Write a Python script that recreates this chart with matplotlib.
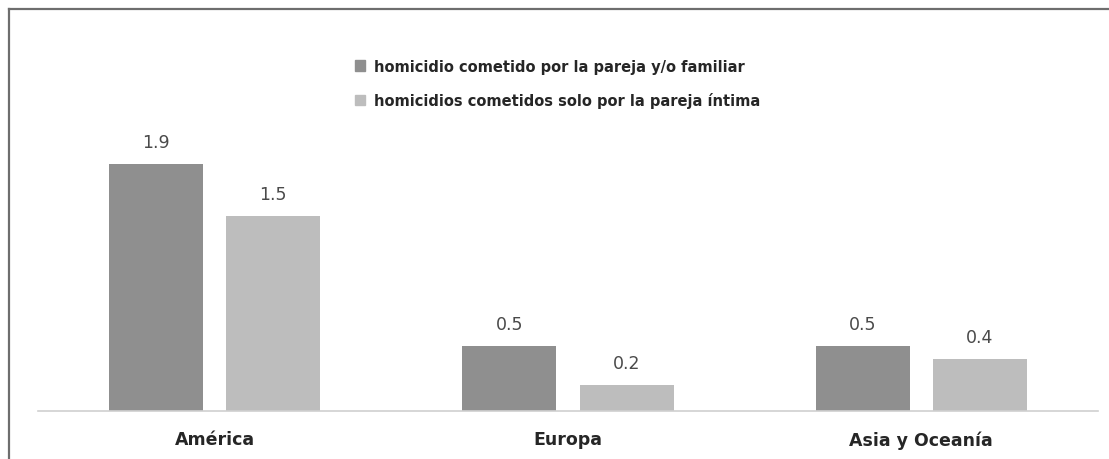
import numpy as np
import matplotlib.pyplot as plt
from matplotlib.lines import Line2D
from matplotlib.patches import Patch

# data
regions = ['América', 'Europa', 'Asia y Oceanía']
pareja_familiar = [1.9, 0.5, 0.5]
solo_pareja = [1.5, 0.2, 0.4]
series_names = ['homicidio cometido por la pareja y/o familiar',
                'homicidios cometidos solo por la pareja íntima']

dark, light = '#8f8f8f', '#bdbdbd'

fig = plt.figure(figsize=(11.09, 4.6), dpi=100)
ax = fig.add_axes([38 / 1109, 48 / 460, 1060 / 1109, 390 / 460])

x = np.arange(len(regions))
width = 0.266
offset = 0.166
b1 = ax.bar(x - offset, pareja_familiar, width, color=dark)
b2 = ax.bar(x + offset, solo_pareja, width, color=light)

# value labels above the bars
for bars, vals in [(b1, pareja_familiar), (b2, solo_pareja)]:
    for bar, v in zip(bars, vals):
        ax.annotate(f'{v:.1f}', (bar.get_x() + bar.get_width() / 2, v),
                    xytext=(0, 9), textcoords='offset points', ha='center',
                    va='bottom', fontsize=12.5, color='#4a4a4a')

ax.set_xlim(-0.5, 2.5)
ax.set_ylim(0, 3.0)
ax.set_xticks(x)
ax.set_xticklabels(regions, fontsize=12.5, fontweight='bold', color='#262626')
ax.tick_params(axis='x', length=0, pad=14)
ax.set_yticks([])
for s in ['top', 'right', 'left']:
    ax.spines[s].set_visible(False)
ax.spines['bottom'].set_color('#d0d0d0')
ax.spines['bottom'].set_linewidth(1.2)

# legend, stacked at the top
handles = [Patch(color=dark), Patch(color=light)]
ax.legend(handles, series_names, loc='upper center', bbox_to_anchor=(0.49, 0.937),
          frameon=False, ncol=1, handlelength=0.7, handleheight=0.7,
          handletextpad=0.6, labelspacing=1.28,
          prop={'weight': 'bold', 'size': 10.5}, labelcolor='#262626')

# outer frame (cropped at right and bottom)
fig.add_artist(Line2D([9 / 1109, 9 / 1109], [0, 1 - 10 / 460],
                      transform=fig.transFigure, color='#6e6e6e', lw=1.6))
fig.add_artist(Line2D([9 / 1109, 1], [1 - 10 / 460, 1 - 10 / 460],
                      transform=fig.transFigure, color='#6e6e6e', lw=1.6))

plt.savefig('out.png', dpi=100)
